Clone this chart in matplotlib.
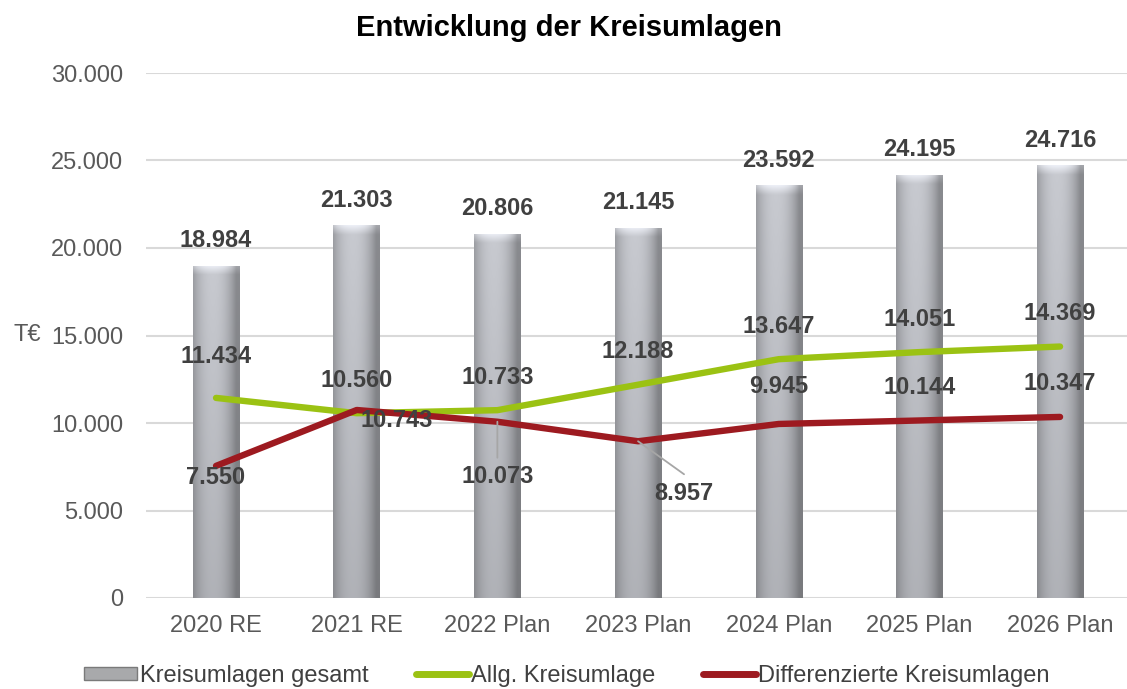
import numpy as np
import matplotlib
matplotlib.use("Agg")
import matplotlib.pyplot as plt
from matplotlib.patches import Patch
from matplotlib.lines import Line2D

plt.rcParams['font.family'] = ['Liberation Sans', 'DejaVu Sans']

# data
years = ['2020 RE', '2021 RE', '2022 Plan', '2023 Plan', '2024 Plan', '2025 Plan', '2026 Plan']
gesamt = [18984, 21303, 20806, 21145, 23592, 24195, 24716]
allg = [11434, 10560, 10733, 12188, 13647, 14051, 14369]
diff = [7550, 10743, 10073, 8957, 9945, 10144, 10347]

# label offsets in pixels (dx, dy)
allg_off = [(0, 41), (0, 33), (0, 33), (0, 33), (0, 33), (0, 33), (0, 33)]
diff_off = [(0, -12), (40, -11), (0, -55), (46, -52), (0, 37), (0, 33), (0, 33)]
# leader line end points (pixels from the point), None = no leader
leader = [None, None, (0, -36), (46, -33), None, None, None]

W, H = 1127, 689
fig = plt.figure(figsize=(W / 100, H / 100), dpi=100)
ax = fig.add_axes([145.7 / W, 91 / H, 984.7 / W, 525 / H])

x = np.arange(len(years))
bw = 0.33
bars = ax.bar(x, gesamt, width=bw, facecolor='none', edgecolor='none', zorder=2)

# cylinder look: horizontal shading + darker bottom, light cap on top
u = np.linspace(-1, 1, 60)
prof = np.clip(1 - (np.abs(u + 0.15) ** 2.2), 0, 1)
for b, v in zip(bars, gesamt):
    hpx = v * 17.5 / 1000
    rows = 300
    t = np.linspace(1, 0, rows)[:, None]  # 1 = top
    base = 0.55 + 0.25 * prof[None, :]
    shade = base * (0.88 + 0.12 * t)
    cap = np.clip(1 - (1 - t) * hpx / 9, 0, 1)
    shade = shade + (0.97 - shade) * cap * (0.6 * prof[None, :] + 0.25)
    rgb = np.dstack([shade * 0.98, shade * 0.99, shade * 1.02]).clip(0, 1)
    im = ax.imshow(rgb, extent=(b.get_x(), b.get_x() + bw, 0, v), aspect='auto',
                   origin='upper', zorder=2, interpolation='bilinear')
    im.set_clip_path(b)

ax.plot(x, allg, color='#9bc213', lw=4.6, solid_capstyle='round', zorder=3)
ax.plot(x, diff, color='#9d1a20', lw=4.6, solid_capstyle='round', zorder=4)

lab = dict(fontsize=17, fontweight='bold', color='#404040', ha='center', va='center',
           textcoords='offset pixels', zorder=6)
fmt = lambda v: f"{v:,}".replace(',', '.')
for i, v in enumerate(gesamt):
    ax.annotate(fmt(v), (x[i], v), xytext=(0, 25), **lab)
for i, v in enumerate(allg):
    ax.annotate(fmt(v), (x[i], v), xytext=allg_off[i], **lab)
for i, v in enumerate(diff):
    ax.annotate(fmt(v), (x[i], v), xytext=diff_off[i], **lab)
    if leader[i]:
        ax.annotate('', (x[i], v), xytext=leader[i], textcoords='offset pixels',
                    arrowprops=dict(arrowstyle='-', color='#a6a6a6', lw=1.3,
                                    shrinkA=0, shrinkB=0), zorder=5)

ax.set_xlim(-0.5, len(years) - 0.5)
ax.set_ylim(0, 30000)
ax.set_yticks(range(0, 30001, 5000))
ax.set_yticklabels([fmt(t) for t in range(0, 30001, 5000)])
ax.set_xticks(x)
ax.set_xticklabels(years)
ax.tick_params(length=0, labelsize=17, labelcolor='#595959')
ax.tick_params(axis='y', pad=16)
ax.tick_params(axis='x', pad=12)
ax.grid(axis='y', color='#d9d9d9', lw=1.5, zorder=0)
ax.set_axisbelow(True)
for s in ax.spines.values():
    s.set_visible(False)

fig.text(27 / W, 1 - 335 / H, 'T€', fontsize=17, color='#595959', ha='center', va='center')
fig.text(0.505, 1 - 28 / H, 'Entwicklung der Kreisumlagen', fontsize=21,
         fontweight='bold', color='black', ha='center', va='center')

handles = [Patch(facecolor='#a8a9ab', edgecolor='#7a7a7a', lw=1),
           Line2D([], [], color='#9bc213', lw=5, solid_capstyle='round'),
           Line2D([], [], color='#9d1a20', lw=5, solid_capstyle='round')]
fig.legend(handles, ['Kreisumlagen gesamt', 'Allg. Kreisumlage', 'Differenzierte Kreisumlagen'],
           loc='center', bbox_to_anchor=(0.503, 13 / H), ncol=3, frameon=False,
           fontsize=17, labelcolor='#404040', handlelength=2.25, handleheight=0.5,
           handletextpad=0.1, columnspacing=2.0)

fig.savefig('out.png', dpi=100)
